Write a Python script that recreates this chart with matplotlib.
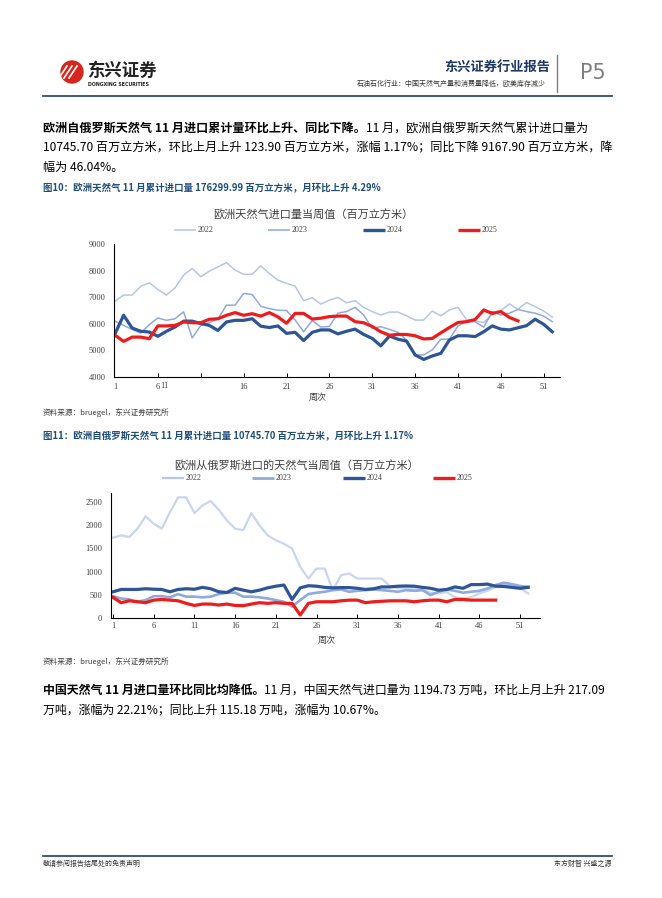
import matplotlib
matplotlib.use("Agg")
import matplotlib.pyplot as plt
from matplotlib.patches import Circle

plt.rcParams['font.family'] = ['Noto Sans CJK SC', 'DejaVu Sans']

# Weekly European gas imports, million m3
weeks = list(range(1, 53))
eu_2022 = [6850, 7080, 7080, 7410, 7540, 7290, 7080, 7350, 7830, 8080, 7770, 7980, 8140, 8300, 8020, 7860,
           7860, 8180, 7890, 7640, 7520, 7420, 6870, 6980, 6740, 6890, 6990, 6790, 6870, 6620, 6460, 6330,
           6440, 6440, 6300, 6140, 6140, 6480, 6300, 6520, 6620, 6150, 6100, 6050, 6350, 6500, 6750, 6550,
           6800, 6650, 6480, 6250]
eu_2023 = [6100, 5940, 5790, 5650, 5970, 6220, 6130, 6190, 6450, 5470, 5940, 6040, 6190, 6700, 6700, 7140,
           7100, 6660, 6570, 6510, 6500, 6150, 5700, 6120, 5880, 5900, 6400, 6460, 6620, 6330, 5830, 5890,
           5790, 5680, 5390, 4830, 4830, 5020, 5420, 5420, 5920, 6080, 6080, 5870, 6460, 6330, 6400, 6540,
           6460, 6400, 6290, 6080]
eu_2024 = [5630, 6320, 5840, 5720, 5690, 5530, 5720, 5880, 6100, 6100, 6010, 5940, 5750, 6070, 6130, 6130,
           6190, 5910, 5860, 5920, 5640, 5680, 5370, 5680, 5770, 5770, 5620, 5720, 5800, 5600, 5450, 5170,
           5540, 5420, 5350, 4830, 4660, 4790, 4890, 5390, 5550, 5550, 5520, 5700, 5920, 5800, 5770, 5850,
           5930, 6170, 5980, 5700]
eu_2025 = [5570, 5340, 5500, 5500, 5440, 5920, 5920, 5940, 6070, 6040, 6040, 6170, 6190, 6320, 6420, 6320,
           6380, 6290, 6420, 6260, 6020, 6390, 6390, 6180, 6210, 6270, 6290, 6290, 6080, 6040, 5900, 5700,
           5570, 5600, 5600, 5550, 5430, 5450, 5660, 5860, 6050, 6080, 6160, 6520, 6390, 6460, 6240, 6110]

# Weekly imports from Russia, million m3
ru_2022 = [1730, 1780, 1745, 1925, 2190, 2030, 1925, 2280, 2600, 2600, 2260, 2425, 2520, 2330, 2100, 1925,
           1890, 2260, 1995, 1780, 1675, 1600, 1495, 1100, 850, 1065, 1065, 600, 920, 960, 850, 850,
           850, 850, 690, 640, 640, 620, 600, 545, 530, 560, 445, 420, 450, 530, 585, 670,
           730, 710, 640, 530]
ru_2023 = [470, 420, 400, 350, 385, 470, 470, 445, 515, 460, 460, 445, 460, 515, 545, 545,
           460, 460, 445, 420, 385, 350, 245, 385, 515, 545, 565, 600, 615, 565, 585, 600,
           615, 600, 585, 565, 600, 585, 600, 495, 565, 615, 585, 545, 565, 585, 635, 710,
           760, 730, 690, 670]
ru_2024 = [565, 615, 615, 615, 630, 620, 615, 565, 615, 630, 620, 660, 630, 565, 550, 640,
           600, 565, 600, 650, 685, 710, 400, 650, 695, 685, 660, 650, 655, 655, 640, 615,
           630, 670, 670, 685, 690, 685, 660, 640, 600, 615, 670, 640, 720, 720, 730, 685,
           680, 660, 640, 660]
ru_2025 = [445, 330, 370, 350, 330, 385, 400, 385, 370, 315, 270, 300, 300, 280, 300, 270,
           265, 300, 330, 315, 330, 315, 315, 65, 315, 350, 350, 350, 370, 385, 385, 330,
           350, 360, 370, 370, 370, 350, 370, 385, 385, 350, 400, 400, 385, 385, 385, 385]

years = ['2022', '2023', '2024', '2025']
tick_weeks = [1, 6, 11, 16, 21, 26, 31, 36, 41, 46, 51]

c22 = '#b4c7e7'
c23 = '#8faadc'
c24 = '#2f5597'
c25 = '#ee1c1c'
serif = 'Liberation Serif'

W, H = 662, 898
fig = plt.figure(figsize=(W / 100, H / 100), dpi=100)

# Page overlay in pixel coordinates (origin top-left)
bg = fig.add_axes([0, 0, 1, 1])
bg.set_xlim(0, W)
bg.set_ylim(H, 0)
bg.axis('off')
renderer = fig.canvas.get_renderer()


def px_axes(left, top, right, bottom):
    return fig.add_axes([left / W, 1 - bottom / H, (right - left) / W, (bottom - top) / H])


# Draw a line of text made of (text, bold) pieces one after another
def rich_line(x, y, parts, size=8.7, color='black'):
    for txt, bold in parts:
        t = bg.text(x, y, txt, fontsize=size, color=color, va='center', ha='left',
                    fontweight='bold' if bold else 'normal')
        x += t.get_window_extent(renderer=renderer).width


# ---- header ----
bg.add_patch(Circle((72, 72), 11, color='#d7261e'))
for dx in (-5, 0, 5):
    bg.plot([64 + dx, 72 + dx], [78, 66], color='white', lw=1.2)
bg.text(88, 71, '东兴证券', fontsize=12.5, fontweight='bold', color='#222222', va='center')
bg.text(88, 84, 'DONGXING SECURITIES', fontsize=3.4, fontweight='bold', color='#222222',
        va='center', family='DejaVu Sans')
bg.text(550, 67, '东兴证券行业报告', fontsize=9.5, fontweight='bold', color='#1f3864', ha='right', va='center')
bg.text(546, 84, '石油石化行业：中国天然气产量和消费量降低，欧美库存减少', fontsize=5, color='#333333',
        ha='right', va='center')
bg.plot([557, 557], [55, 92], color='#808080', lw=1)
bg.text(580, 73, 'P5', fontsize=15, color='#7f7f7f', va='center', ha='left', family='DejaVu Sans')
bg.plot([43, 612], [96, 96], color='#1f3f5f', lw=1.2)

# ---- paragraph 1 ----
rich_line(43, 128, [('欧洲自俄罗斯天然气 11 月进口累计量环比上升、同比下降。', True),
                    ('11 月，欧洲自俄罗斯天然气累计进口量为', False)])
rich_line(43, 148, [('10745.70 百万立方米，环比上月上升 123.90 百万立方米，涨幅 1.17%；同比下降 9167.90 百万立方米，降', False)])
rich_line(43, 167, [('幅为 46.04%。', False)])

cap_color = '#1f4e79'
bg.text(43, 188, '图10：欧洲天然气 11 月累计进口量 176299.99 百万立方米，月环比上升 4.29%', fontsize=6.8,
        fontweight='bold', color=cap_color, va='center')


def legend_row(y, xs, colors, widths):
    for x0, col, lw, lab in zip(xs, colors, widths, years):
        bg.plot([x0, x0 + 22], [y, y], color=col, lw=lw, solid_capstyle='butt')
        bg.text(x0 + 24, y, lab, fontsize=5.8, family=serif, color='#404040', va='center')


def style_axes(ax):
    for s in ('top', 'right'):
        ax.spines[s].set_visible(False)
    for s in ('left', 'bottom'):
        ax.spines[s].set_color('black')
        ax.spines[s].set_linewidth(0.8)
    ax.tick_params(axis='y', length=0, pad=6, labelsize=6)
    ax.tick_params(axis='x', direction='in', length=3, width=0.7, labelsize=6, pad=4)
    for lab in ax.get_xticklabels() + ax.get_yticklabels():
        lab.set_family(serif)
        lab.set_color('#404040')


# ---- chart 1 ----
bg.text(313, 215, '欧洲天然气进口量当周值（百万立方米）', fontsize=8, color='#404040', ha='center', va='center')
legend_row(229.5, [174, 268, 363, 458], [c22, c23, c24, c25], [1.1, 1.1, 2.4, 2.4])

ax1 = px_axes(114, 244, 560, 377)
ax1.plot(weeks, eu_2022, color=c22, lw=1.1)
ax1.plot(weeks, eu_2023, color=c23, lw=1.1)
ax1.plot(weeks, eu_2024, color=c24, lw=2.3)
ax1.plot(weeks[:len(eu_2025)], eu_2025, color=c25, lw=2.3)
ax1.set_xlim(0.88, 52.9)
ax1.set_ylim(4000, 9000)
ax1.set_yticks(range(4000, 9001, 1000))
ax1.set_xticks(tick_weeks)
labels1 = [str(w) for w in tick_weeks]
labels1[2] = ''
ax1.set_xticklabels(labels1)
style_axes(ax1)
ax1.xaxis.get_major_ticks()[0].tick1line.set_visible(False)
# the "11" label in the source sits right next to the "6"
ax1.text(6.72, -0.041, '11', transform=ax1.get_xaxis_transform(), fontsize=6, family=serif,
         color='#404040', ha='center', va='top')
bg.text(318, 397, '周次', fontsize=6.5, color='#404040', ha='center', va='center')

src_color = '#404040'
bg.text(43, 413, '资料来源：bruegel，东兴证券研究所', fontsize=5.5, style='italic', color=src_color, va='center')
bg.text(43, 436, '图11：欧洲自俄罗斯天然气 11 月累计进口量 10745.70 百万立方米，月环比上升 1.17%', fontsize=6.8,
        fontweight='bold', color=cap_color, va='center')

# ---- chart 2 ----
bg.text(297, 466, '欧洲从俄罗斯进口的天然气当周值（百万立方米）', fontsize=8, color='#404040', ha='center',
        va='center')
legend_row(478, [162, 252, 343, 433], [c22, c23, c24, c25], [1.6, 2.0, 2.4, 2.4])

ax2 = px_axes(110.7, 493, 540, 618)
ax2.plot(weeks, ru_2022, color='#c9d6ee', lw=1.6)
ax2.plot(weeks, ru_2023, color=c23, lw=1.9)
ax2.plot(weeks, ru_2024, color=c24, lw=2.3)
ax2.plot(weeks[:len(ru_2025)], ru_2025, color=c25, lw=2.3)
ax2.set_xlim(0.72, 53.45)
ax2.set_ylim(0, 2693)
ax2.set_yticks(range(0, 2501, 500))
ax2.set_xticks(tick_weeks)
ax2.set_xticklabels([str(w) for w in tick_weeks])
style_axes(ax2)
ax2.tick_params(axis='x', pad=3)
bg.text(327, 640, '周次', fontsize=6.5, color='#404040', ha='center', va='center')

bg.text(43, 662, '资料来源：bruegel，东兴证券研究所', fontsize=5.5, style='italic', color=src_color, va='center')

# ---- paragraph 2 ----
rich_line(43, 690, [('中国天然气 11 月进口量环比同比均降低。', True),
                    ('11 月，中国天然气进口量为 1194.73 万吨，环比上月上升 217.09', False)], size=8.6)
rich_line(43, 710, [('万吨，涨幅为 22.21%；同比上升 115.18 万吨，涨幅为 10.67%。', False)], size=8.6)

# ---- footer ----
bg.plot([43, 612], [856, 856], color='#1f3f5f', lw=1.2)
bg.text(43, 864, '敬请参阅报告结尾处的免责声明', fontsize=5, color='#333333', va='center')
bg.text(612, 864, '东方财智 兴盛之源', fontsize=5, color='#333333', va='center', ha='right')

fig.savefig('out.png', dpi=100)
